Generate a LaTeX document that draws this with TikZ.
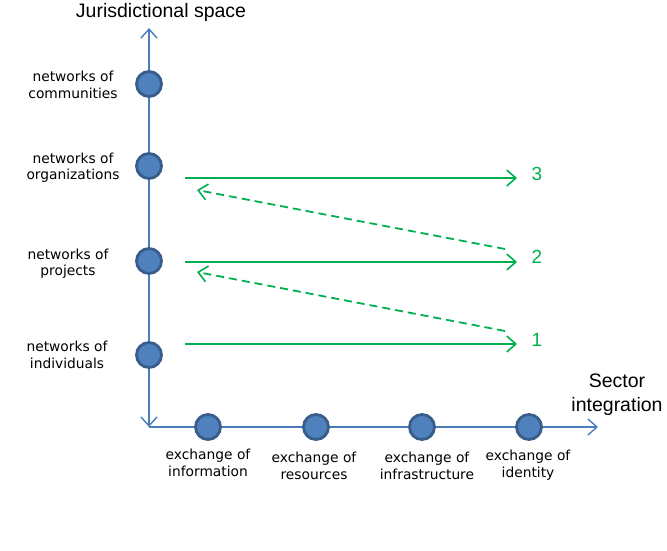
\documentclass[tikz,border=0pt]{standalone}
\usepackage{fontspec}
\setmainfont{DejaVu Sans}
\newfontfamily\arialf{Liberation Sans}
\usetikzlibrary{arrows.meta}
\definecolor{axisblue}{HTML}{4A7EBB}
\definecolor{dotfill}{HTML}{4F81BD}
\definecolor{dotedge}{HTML}{385D8A}
\definecolor{grn}{HTML}{00B050}
\tikzset{
  axisbarb/.tip={Straight Barb[length=9pt, width=16pt, line width=1.4pt]},
  grnbarb/.tip={Straight Barb[length=9pt, width=16pt, line width=1.6pt]},
  axis/.style={draw=axisblue, line width=1.4pt},
  dot/.style={circle, fill=dotfill, draw=dotedge, line width=2.8pt, minimum size=25pt, inner sep=0pt},
  lbl/.style={font=\fontsize{13.8}{16.5}\selectfont, align=center, text=black, inner sep=0pt},
  title/.style={font=\arialf\fontsize{19.5}{24}\selectfont, align=center, inner sep=0pt},
  num/.style={font=\arialf\fontsize{19}{22}\selectfont, text=grn, inner sep=0pt},
  garrow/.style={draw=grn, line width=1.7pt, -grnbarb},
  gdash/.style={draw=grn, line width=1.8pt, dash pattern=on 8pt off 5pt, -grnbarb}
}
\begin{document}
\begin{tikzpicture}[x=1pt, y=-1pt]
\useasboundingbox (0,0) rectangle (667,550);
% axes
\coordinate (top) at (149,28);
\coordinate (origin) at (149,427);
\coordinate (right) at (598,427);
\draw[axis, axisbarb-axisbarb] (top) -- (origin);
\draw[axis, -axisbarb] (origin) -- (right);
% titles
\node[title] (ytitle) at (161,12) {Jurisdictional space};
\node[title] (xtitle) at (617,395) {Sector\\integration};
% vertical dots
\node[dot] (v4) at (149,84) {};
\node[dot] (v3) at (149,166) {};
\node[dot] (v2) at (149,261) {};
\node[dot] (v1) at (149,355) {};
% horizontal dots
\node[dot] (h1) at (208,427) {};
\node[dot] (h2) at (316,427) {};
\node[dot] (h3) at (422,427) {};
\node[dot] (h4) at (529,427) {};
% left labels
\node[lbl] (l4) at (73,85) {networks of\\communities};
\node[lbl] (l3) at (73,167.5) {networks of\\organizations};
\node[lbl] (l2) at (68,263.5) {networks of\\projects};
\node[lbl] (l1) at (67,355) {networks of\\individuals};
% bottom labels
\node[lbl] (b1) at (208,463) {exchange of\\information};
\node[lbl] (b2) at (314,466) {exchange of\\resources};
\node[lbl] (b3) at (427,466) {exchange of\\infrastructure};
\node[lbl] (b4) at (528,465) {exchange of\\identity};
% numbers
\node[num] (n3) at (537,174) {3};
\node[num] (n2) at (537,257) {2};
\node[num] (n1) at (537,340) {1};
% green arrows
\coordinate (s3) at (185,178);
\coordinate (e3) at (517,178);
\coordinate (s2) at (185,262);
\coordinate (e2) at (517,262);
\coordinate (s1) at (185,344);
\coordinate (e1) at (517,344);
\draw[garrow] (s3) -- (e3);
\draw[garrow] (s2) -- (e2);
\draw[garrow] (s1) -- (e1);
\coordinate (d2s) at (505,249);
\coordinate (d2e) at (197,190);
\coordinate (d1s) at (505,331);
\coordinate (d1e) at (197,272);
\draw[gdash] (d2s) -- (d2e);
\draw[gdash] (d1s) -- (d1e);
\end{tikzpicture}
\end{document}
